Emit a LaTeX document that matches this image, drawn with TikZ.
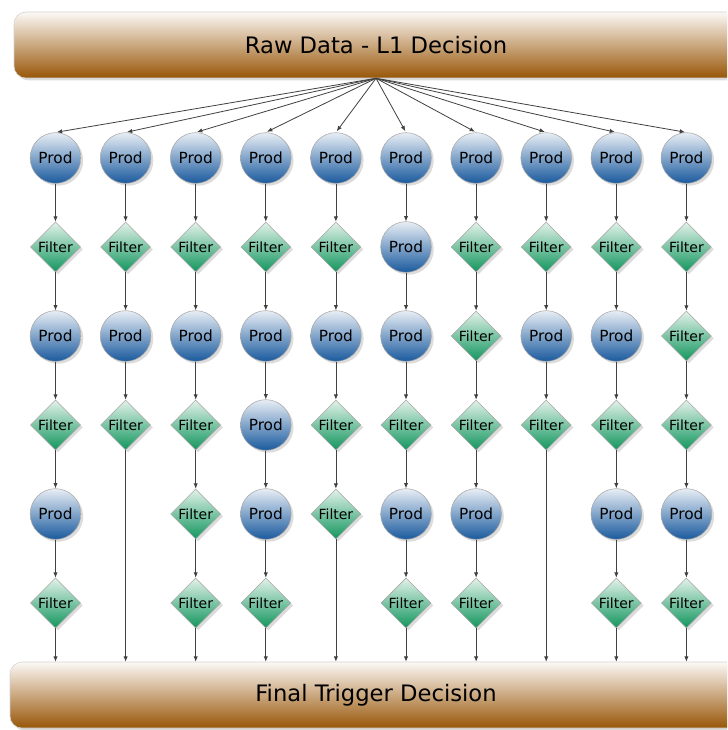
\documentclass[tikz,border=0pt]{standalone}
\usepackage{fontspec}
\setmainfont{DejaVu Sans}
\usetikzlibrary{arrows.meta,shapes.geometric,shadows}

\definecolor{prodtop}{HTML}{E8EEF5}
\definecolor{prodbot}{HTML}{1A5A9E}
\definecolor{filtertop}{HTML}{E2F2E9}
\definecolor{filterbot}{HTML}{12965E}
\definecolor{bartop}{HTML}{FCF9F6}
\definecolor{barbot}{HTML}{985608}

\begin{document}
\begin{tikzpicture}[x=0.75pt,y=-0.75pt,
  softshadow/.style={drop shadow={shadow xshift=1.8pt,shadow yshift=-1.8pt,opacity=0.28}},
  bar/.style={rectangle,rounded corners=9pt,minimum height=49.5pt,draw=gray!35,
    top color=bartop,bottom color=barbot,softshadow,font=\fontsize{17}{20}\selectfont},
  prod/.style={circle,draw=gray!70,minimum size=38pt,inner sep=0pt,
    top color=prodtop,bottom color=prodbot,softshadow,
    font=\fontsize{11.5}{13}\selectfont,node contents=Prod},
  filter/.style={diamond,draw=gray!70,minimum size=37.5pt,inner sep=0pt,
    top color=filtertop,bottom color=filterbot,softshadow,
    font=\fontsize{10.5}{12}\selectfont,node contents=\makebox[0pt]{Filter}},
  flow/.style={-{Latex[length=4pt,width=3.2pt]},draw=black!75,line width=0.6pt}]
\useasboundingbox (0,0) rectangle (727,730);
\clip (0,0) rectangle (727,730);

% Top and bottom bars
\node[bar,minimum width=543pt] (raw) at (376,45) {Raw Data - L1 Decision};
\node[bar,minimum width=549pt] (final) at (376,695) {Final Trigger Decision};

% Processing chains, one per column
\foreach \c/\kinds in {1/{prod,filter,prod,filter,prod,filter},
                       2/{prod,filter,prod,filter},
                       3/{prod,filter,prod,filter,filter,filter},
                       4/{prod,filter,prod,prod,prod,filter},
                       5/{prod,filter,prod,filter,filter},
                       6/{prod,prod,prod,filter,prod,filter},
                       7/{prod,filter,filter,filter,prod,filter},
                       8/{prod,filter,prod,filter},
                       9/{prod,filter,prod,filter,prod,filter},
                       10/{prod,filter,filter,filter,prod,filter}}
  \foreach \k [count=\r] in \kinds
    \node (c\c r\r) at ({55.5+70.1*(\c-1)},{158+89*(\r-1)}) [\k];

% Connections
\foreach \c/\n in {1/6,2/4,3/6,4/6,5/5,6/6,7/6,8/4,9/6,10/6} {
  \draw[flow,shorten >=1pt] (raw.south) -- (c\c r1.north);
  \foreach \r [evaluate=\r as \p using int(\r-1)] in {2,...,\n}
    \draw[flow] (c\c r\p) -- (c\c r\r);
  \draw[flow] (c\c r\n) -- (c\c r\n |- final.north);
}

\end{tikzpicture}
\end{document}
